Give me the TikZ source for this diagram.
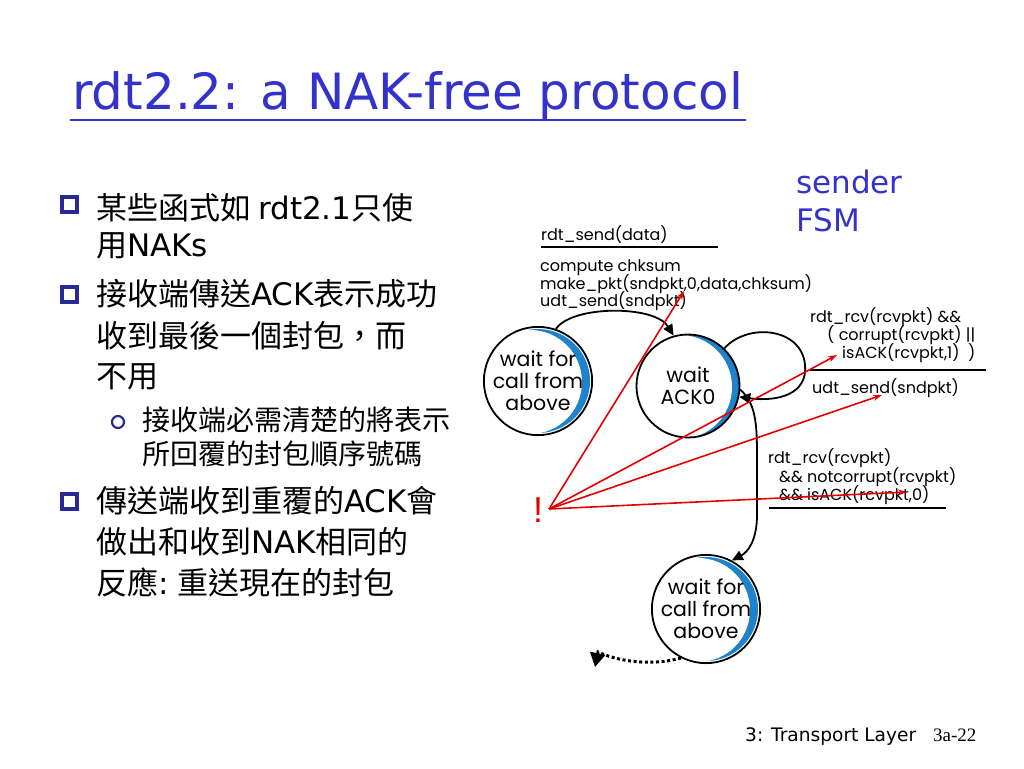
\documentclass[tikz,border=0pt]{standalone}
\usepackage{fontspec}
\setmainfont{Liberation Serif}
\newfontfamily\cjk{Noto Sans CJK TC}
\newfontfamily\lat{DejaVu Sans}
\newfontfamily\gfont{Poppins}
\usetikzlibrary{arrows.meta}
\definecolor{titleblue}{RGB}{51,51,204}
\definecolor{bulblue}{RGB}{40,40,150}
\definecolor{crescent}{RGB}{30,130,205}
\definecolor{pointer}{RGB}{228,0,0}
\tikzset{
  state/.style={circle, draw=black, line width=1.8pt, minimum size=103pt, inner sep=0pt,
    align=center, font=\gfont\fontsize{20.5}{22}\selectfont,
    path picture={\fill[crescent] (path picture bounding box.center) circle (52pt);
      \fill[white] ([xshift=-8pt,yshift=-1pt]path picture bounding box.center) circle (52pt);}},
  trans/.style={line width=1.8pt, -{Triangle[length=11pt,width=10pt]}},
  dotted trans/.style={line width=3pt, dash pattern=on 3pt off 2.6pt, -{Triangle[length=14pt,width=15pt]}},
  lbl/.style={anchor=base west, inner sep=0pt, font=\gfont\fontsize{16}{18}\selectfont},
  evrule/.style={line width=2.4pt},
  redp/.style={draw=pointer, line width=1.6pt, -{Stealth[length=9pt,width=6pt]}},
  body/.style={anchor=base west, inner sep=0pt, font=\cjk\fontsize{31}{36}\selectfont},
  subbody/.style={anchor=base west, inner sep=0pt, font=\cjk\fontsize{28}{32}\selectfont},
  bulletbox/.style={draw=bulblue, line width=3.2pt},
}
\newcommand{\la}[1]{{\lat #1}}
\begin{document}
\begin{tikzpicture}[x=1pt,y=-1pt]
\useasboundingbox (0,0) rectangle (1024,768);
% title
\node[anchor=base west, inner sep=0pt, text=titleblue, font=\lat\fontsize{50}{56}\selectfont] (title) at (72,109) {rdt2.2: a NAK-free protocol};
\draw[titleblue, line width=2pt] (70,120) -- (746,120);
% bullets
\draw[bulletbox] (62,197) rectangle (77,212);
\draw[bulletbox] (62,287) rectangle (77,302);
\draw[bulletbox] (62,494) rectangle (77,509);
\draw[bulblue, line width=2.2pt] (118,422) circle (6);
\node[body] (b1a) at (96,219) {某些函式如 \la{rdt2.1}只使};
\node[body] (b1b) at (96,256) {用\la{NAKs}};
\node[body] (b2a) at (96,305) {接收端傳送\la{ACK}表示成功};
\node[body] (b2b) at (96,347) {收到最後一個封包，而};
\node[body] (b2c) at (96,387) {不用};
\node[subbody] (s1a) at (142,430) {接收端必需清楚的將表示};
\node[subbody] (s1b) at (142,464) {所回覆的封包順序號碼};
\node[body] (b3a) at (96,512) {傳送端收到重覆的\la{ACK}會};
\node[body] (b3b) at (96,553) {做出和收到\la{NAK}相同的};
\node[body] (b3c) at (96,594) {反應\la{:} 重送現在的封包};
% sender FSM
\node[anchor=base west, inner sep=0pt, text=titleblue, font=\lat\fontsize{31}{36}\selectfont] (fsm1) at (796,193) {sender};
\node[anchor=base west, inner sep=0pt, text=titleblue, font=\lat\fontsize{31}{36}\selectfont] (fsm2) at (796,231) {FSM};
% states
\node[state] (s1) at (538,381) {wait for\\call from\\above};
\node[state] (s2) at (688,386) {wait\\ACK0};
\node[state] (s3) at (706,609) {wait for\\call from\\above};
% transitions
\draw[trans] (s1.71) .. controls (572,305) and (655,305) .. (s2.106);
\draw[trans] (s2.46) .. controls (748,322) and (802,328) .. (805,365)
   .. controls (808,394) and (778,402) .. (s2.-12);
\draw[trans] (s2.-4) .. controls (758,405) and (757,430) .. (757,470)
   -- (757,515) .. controls (757,540) and (748,552) .. (s3.62);
\coordinate (dotend) at (595,667);
\draw[dotted trans] (s3.243) .. controls (648,667) and (615,660) .. (598,652) -- (dotend);
% labels
\node[lbl] (t1e) at (541,240) {rdt\_send(data)};
\draw[evrule] (541,247) -- (718,247);
\node[lbl] (t1a) at (540,271) {compute chksum};
\node[lbl] (t1b) at (540,289) {make\_pkt(sndpkt,0,data,chksum)};
\node[lbl] (t1c) at (540,306) {udt\_send(sndpkt)};
\node[lbl] (t2a) at (810,322) {rdt\_rcv(rcvpkt) \&\&};
\node[lbl] (t2b) at (827,340) {( corrupt(rcvpkt) ||};
\node[lbl] (t2c) at (842,358) {isACK(rcvpkt,1) \ )};
\draw[evrule] (810,370) -- (986,370);
\node[lbl] (t2d) at (812,393) {udt\_send(sndpkt)};
\node[lbl] (t3a) at (768,463) {rdt\_rcv(rcvpkt)};
\node[lbl] (t3b) at (779,482) {\&\& notcorrupt(rcvpkt)};
\node[lbl] (t3c) at (779,500) {\&\& isACK(rcvpkt,0)};
\draw[evrule] (769,508) -- (946,508);
% pointers
\node[text=pointer, inner sep=0pt, font=\fontspec{Liberation Sans}\fontsize{36}{40}\selectfont] (bang) at (538,510) {!};
\coordinate (src) at (549,509);
\coordinate (p1) at (684,291);
\coordinate (p2) at (837,355);
\coordinate (p3) at (882,395);
\coordinate (p4) at (907,492);
\draw[redp] (src) -- (p1);
\draw[redp] (src) -- (p2);
\draw[redp] (src) -- (p3);
\draw[redp] (src) -- (p4);
% footer
\node[anchor=base west, inner sep=0pt, font=\lat\fontsize{18.6}{22}\selectfont] (foot1) at (745,741) {3: Transport Layer};
\node[anchor=base west, inner sep=0pt, font=\fontsize{19}{22}\selectfont] (foot2) at (933,741) {3a-22};
\end{tikzpicture}
\end{document}
